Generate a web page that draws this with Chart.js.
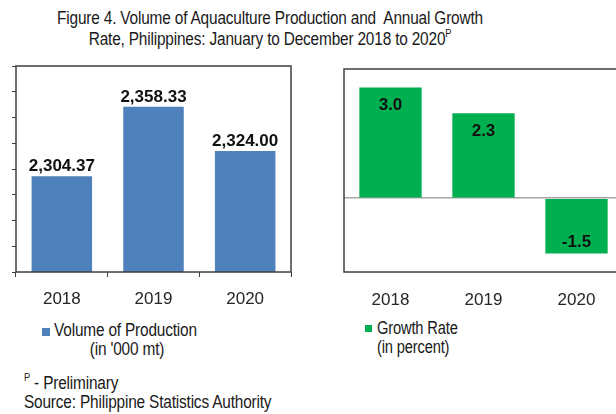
<!DOCTYPE html>
<html>
<head>
<meta charset="utf-8">
<script src="https://cdn.jsdelivr.net/npm/chart.js@4.4.1/dist/chart.umd.min.js"></script>
<style>
  html, body { margin: 0; padding: 0; background: #fff; overflow: hidden; width: 616px; height: 414px; }
  body { position: relative; font-family: "Liberation Sans", Arial, sans-serif; color: #1a1a1a; }
  .t { position: absolute; font-size: 17.5px; line-height: 16px; letter-spacing: -0.2px; white-space: nowrap;
       transform: scaleX(0.88); transform-origin: left top; }
  .c { transform-origin: center top; text-align: center; }
  .sq { position: absolute; width: 8px; height: 8px; }
  sup { font-size: 10.5px; line-height: 0; position: relative; top: -1px; }
  canvas { position: absolute; }
</style>
</head>
<body>
<div class="t c" style="left:0;width:540px;top:10px">Figure 4. Volume of Aquaculture Production and&nbsp; Annual Growth</div>
<div class="t c" style="left:0;width:540px;top:31px">Rate, Philippines: January to December 2018 to 2020<sup>P</sup></div>

<canvas id="volChart" width="300" height="262" style="left:0;top:56px;width:300px;height:262px"></canvas>
<canvas id="growthChart" width="330" height="262" style="left:300px;top:56px;width:330px;height:262px"></canvas>

<div class="sq" style="left:42px;top:328px;background:#4F81BD"></div>
<div class="t" style="left:54px;top:322px">Volume of Production</div>
<div class="t c" style="left:54px;width:146px;top:341px">(in '000 mt)</div>

<div class="sq" style="left:365px;top:325px;width:7px;height:7px;background:#00B050"></div>
<div class="t" style="left:377px;top:320px;transform:scaleX(0.84)">Growth Rate</div>
<div class="t" style="left:377px;top:339px;transform:scaleX(0.84)">(in percent)</div>

<div class="t" style="left:24px;top:375px"><sup>P</sup> - Preliminary</div>
<div class="t" style="left:24px;top:394px">Source: Philippine Statistics Authority</div>

<script>
// datos de la grafica
const years = ["2018", "2019", "2020"];
const volumen = [2304.37, 2358.33, 2324.00];   // '000 mt
const crecimiento = [3.0, 2.3, -1.5];          // percent

// caja alrededor del area de la grafica
const marco = {
  id: 'marco',
  afterDraw(chart) {
    const a = chart.chartArea, c = chart.ctx;
    c.save();
    c.strokeStyle = '#3f3f3f';
    c.lineWidth = 1.5;
    c.strokeRect(a.left, a.top, a.right - a.left, a.bottom - a.top);
    c.restore();
  }
};

// etiquetas de valores (no hay plugin datalabels)
function etiquetas(fmt, dentro) {
  return {
    id: 'etiquetas',
    afterDatasetsDraw(chart) {
      const c = chart.ctx;
      const meta = chart.getDatasetMeta(0);
      c.save();
      c.font = 'bold 17px "Liberation Sans", Arial, sans-serif';
      c.fillStyle = '#111';
      c.textAlign = 'center';
      meta.data.forEach((bar, i) => {
        const v = chart.data.datasets[0].data[i];
        let y;
        if (!dentro) { c.textBaseline = 'bottom'; y = bar.y - 1; }
        else if (v >= 0) { c.textBaseline = 'middle'; y = bar.y + 18; }
        else { c.textBaseline = 'middle'; y = bar.y - 11; }
        c.fillText(fmt(v), bar.x, y);
      });
      c.restore();
    }
  };
}

const tickFont = { family: '"Liberation Sans", Arial, sans-serif', size: 17 };

new Chart(document.getElementById('volChart'), {
  type: 'bar',
  data: {
    labels: years,
    datasets: [{
      data: volumen,
      backgroundColor: '#4F81BD',
      barPercentage: 0.66,
      categoryPercentage: 1
    }]
  },
  options: {
    responsive: false,
    animation: false,
    layout: { padding: { top: 10, left: 0, right: 9, bottom: 0 } },
    plugins: { legend: { display: false }, tooltip: { enabled: false } },
    scales: {
      x: {
        grid: { offset: true, drawOnChartArea: false, tickLength: 5, color: '#404040' },
        border: { display: false },
        ticks: { font: tickFont, color: '#262626', padding: 12 },
        afterFit(s) { s.height = 46; }
      },
      y: {
        min: 2230, max: 2390,
        grid: { drawOnChartArea: false, tickLength: 4, color: '#404040' },
        border: { display: false },
        ticks: { stepSize: 20, display: false },
        afterFit(s) { s.width = 16; }
      }
    }
  },
  plugins: [marco, etiquetas(v => v.toLocaleString('en-US', { minimumFractionDigits: 2, maximumFractionDigits: 2 }), false)]
});

new Chart(document.getElementById('growthChart'), {
  type: 'bar',
  data: {
    labels: years,
    datasets: [{
      data: crecimiento,
      backgroundColor: '#00B050',
      barPercentage: 0.67,
      categoryPercentage: 1
    }]
  },
  options: {
    responsive: false,
    animation: false,
    layout: { padding: { top: 13, left: 0, right: 7, bottom: 0 } },
    plugins: { legend: { display: false }, tooltip: { enabled: false } },
    scales: {
      x: {
        grid: { display: false, drawTicks: false },
        border: { display: false },
        ticks: { font: tickFont, color: '#262626', padding: 18 },
        afterFit(s) { s.height = 46; }
      },
      y: {
        min: -2, max: 3.5,
        grid: {
          drawTicks: false,
          lineWidth: 1.5,
          color: ctx => (ctx.tick && ctx.tick.value === 0) ? '#a6a6a6' : 'rgba(0,0,0,0)'
        },
        border: { display: false },
        ticks: { stepSize: 0.5, display: false },
        afterFit(s) { s.width = 44; }
      }
    }
  },
  plugins: [marco, etiquetas(v => v.toFixed(1), true)]
});
</script>
</body>
</html>
